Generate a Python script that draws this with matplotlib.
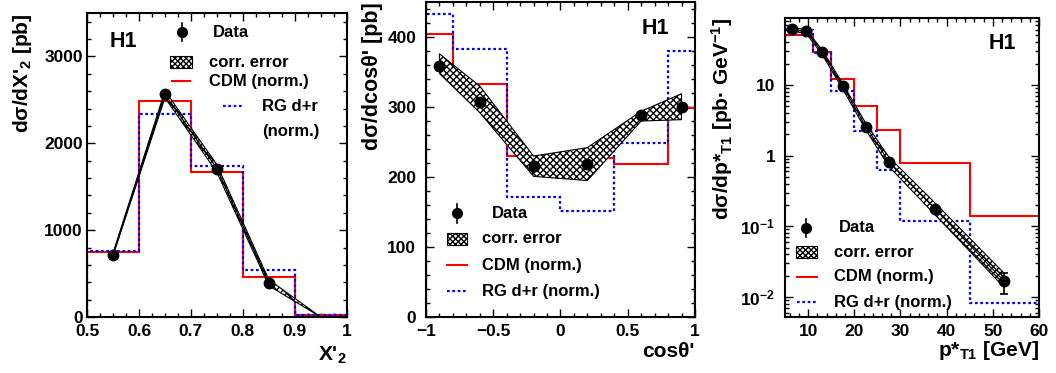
import matplotlib
matplotlib.use("Agg")
import matplotlib.pyplot as plt
from matplotlib.patches import Rectangle
from matplotlib.ticker import AutoMinorLocator, FixedLocator, LogLocator, NullFormatter, FuncFormatter

plt.rcParams['font.family'] = ['Liberation Sans', 'DejaVu Sans']
plt.rcParams['font.weight'] = 'bold'
plt.rcParams['mathtext.default'] = 'regular'
plt.rcParams['hatch.linewidth'] = 1.0
plt.rcParams['axes.linewidth'] = 1.5

# --- panel 1: X'_2 ---
x2_pts = [0.55, 0.65, 0.75, 0.85]
x2_data = [720, 2565, 1710, 395]
x2_err = [10, 15, 15, 10]
x2_band_x = [0.55, 0.65, 0.75, 0.85, 0.95]
x2_band_lo = [705, 2525, 1665, 360, 0]
x2_band_hi = [735, 2605, 1755, 430, 0]
x2_edges = [0.5, 0.6, 0.7, 0.8, 0.9, 1.0]
x2_cdm = [750, 2490, 1670, 460, 20]
x2_rg = [760, 2340, 1740, 540, 25]

# --- panel 2: cos theta' ---
ct_pts = [-0.9, -0.6, -0.2, 0.2, 0.6, 0.9]
ct_data = [358, 307, 216, 219, 288, 300]
ct_err = [3, 3, 2, 2, 3, 3]
ct_band_lo = [348, 292, 201, 195, 280, 282]
ct_band_hi = [376, 330, 230, 242, 294, 319]
ct_edges = [-1, -0.8, -0.4, 0, 0.4, 0.8, 1]
ct_cdm = [405, 333, 230, 227, 219, 299]
ct_rg = [433, 383, 171, 151, 249, 380]

# --- panel 3: p*_T1 ---
pt_pts = [6.5, 9.5, 13, 17.5, 22.5, 27.5, 37.5, 52.5]
pt_data = [60.7, 57.5, 29.3, 9.57, 2.57, 0.82, 0.176, 0.0166]
pt_err = [0.8, 0.8, 0.5, 0.2, 0.06, 0.02, 0.006, 0.0055]
pt_band_lo = [57, 54, 27, 8.7, 2.3, 0.70, 0.145, 0.0135]
pt_band_hi = [64, 61, 31.5, 10.4, 2.85, 0.95, 0.213, 0.0215]
pt_edges = [5, 8, 11, 15, 20, 25, 30, 45, 60]
pt_cdm = [51.5, 51.5, 29, 12.2, 4.94, 2.32, 0.78, 0.14]
pt_rg = [62, 60, 28, 8.15, 2.19, 0.62, 0.117, 0.0082]

fig = plt.figure(figsize=(10.56, 3.73), dpi=100)
ax1 = fig.add_axes([0.0824, 0.150, 0.246, 0.815])
ax2 = fig.add_axes([0.4034, 0.150, 0.2547, 0.8445])
ax3 = fig.add_axes([0.7434, 0.150, 0.2405, 0.8016])

HATCH = 'xxxxx'
LABEL_FS = 15
TICK_FS = 12.5
LEG_FS = 12


def draw_panel(ax, pts, data, err, bx, lo, hi, edges, cdm, rg, baseline=0):
    ax.fill_between(bx, lo, hi, facecolor='white', edgecolor='black',
                    hatch=HATCH, lw=0.8, zorder=3)
    ax.stairs(cdm, edges, color='red', lw=1.5, baseline=baseline, zorder=2)
    ax.stairs(rg, edges, color='blue', ls=(0, (1.2, 1.2)), lw=1.6,
              baseline=baseline, zorder=2)
    ax.errorbar(pts, data, yerr=err, fmt='o', color='black', ms=7.5,
                elinewidth=1.2, capsize=3, capthick=1.2, zorder=5)


def leg_entry(ax, kind, x0, x1, y, label, tx):
    xc = 0.5 * (x0 + x1)
    kw = dict(transform=ax.transAxes, clip_on=False)
    if kind == 'data':
        ax.plot([xc], [y], 'o', color='black', ms=7, **kw)
        ax.plot([xc, xc], [y - 0.03, y + 0.03], color='black', lw=1.2, **kw)
    elif kind == 'band':
        ax.add_patch(Rectangle((x0, y - 0.02), x1 - x0, 0.04, facecolor='white',
                               edgecolor='black', hatch='xxxxxx', lw=0.8, **kw))
    elif kind == 'cdm':
        ax.plot([x0, x1], [y, y], color='red', lw=1.5, **kw)
    elif kind == 'rg':
        ax.plot([x0, x1], [y, y], color='blue', ls=(0, (1.2, 1.2)), lw=1.6, **kw)
    if label:
        ax.text(tx, y, label, transform=ax.transAxes, va='center', ha='left',
                fontsize=LEG_FS, fontweight='bold')


def style(ax):
    ax.tick_params(which='both', direction='in', top=True, right=True,
                   labelsize=TICK_FS, width=1)
    ax.tick_params(which='major', length=6)
    ax.tick_params(which='minor', length=3)


# panel 1
draw_panel(ax1, x2_pts, x2_data, x2_err, x2_band_x, x2_band_lo, x2_band_hi,
           x2_edges, x2_cdm, x2_rg)
ax1.plot(x2_pts, x2_data, color='black', lw=1.0, zorder=4)
ax1.set_xlim(0.5, 1.0)
ax1.set_ylim(0, 3500)
ax1.set_xticks([0.5, 0.6, 0.7, 0.8, 0.9, 1.0])
ax1.set_xticklabels(['0.5', '0.6', '0.7', '0.8', '0.9', '1'])
ax1.set_yticks([0, 1000, 2000, 3000])
ax1.xaxis.set_minor_locator(AutoMinorLocator(4))
ax1.yaxis.set_minor_locator(AutoMinorLocator(5))
style(ax1)
ax1.tick_params(axis='x', pad=5)
ax1.tick_params(axis='y', pad=3)
ax1.set_ylabel("dσ/dX'$_{2}$ [pb]", fontsize=LABEL_FS, fontweight='bold', loc='top')
ax1.yaxis.set_label_coords(-0.205, 1.0)
ax1.set_xlabel("X'$_{2}$", fontsize=LABEL_FS, fontweight='bold', loc='right')
ax1.xaxis.set_label_coords(1.0, -0.09)
ax1.text(0.088, 0.905, 'H1', transform=ax1.transAxes, fontsize=15.5,
         fontweight='bold', va='center', ha='left')
leg_entry(ax1, 'data', 0.33, 0.40, 0.9375, 'Data', 0.485)
leg_entry(ax1, 'band', 0.319, 0.404, 0.838, 'corr. error', 0.469)
leg_entry(ax1, 'cdm', 0.327, 0.396, 0.776, 'CDM (norm.)', 0.469)
leg_entry(ax1, 'rg', 0.523, 0.60, 0.694, 'RG d+r', 0.673)
ax1.text(0.673, 0.609, '(norm.)', transform=ax1.transAxes, va='center',
         ha='left', fontsize=LEG_FS, fontweight='bold')

# panel 2
draw_panel(ax2, ct_pts, ct_data, ct_err, ct_pts, ct_band_lo, ct_band_hi,
           ct_edges, ct_cdm, ct_rg)
ax2.set_xlim(-1, 1)
ax2.set_ylim(0, 450)
ax2.set_xticks([-1, -0.5, 0, 0.5, 1])
ax2.set_xticklabels(['\u22121', '\u22120.5', '0', '0.5', '1'])
ax2.set_yticks([0, 100, 200, 300, 400])
ax2.xaxis.set_minor_locator(AutoMinorLocator(5))
ax2.yaxis.set_minor_locator(AutoMinorLocator(5))
style(ax2)
ax2.tick_params(axis='x', pad=5)
ax2.tick_params(axis='y', pad=7)
ax2.set_ylabel("dσ/dcosθ' [pb]", fontsize=15.5, fontweight='bold', loc='top')
ax2.yaxis.set_label_coords(-0.16, 1.0)
ax2.set_xlabel("cosθ'", fontsize=LABEL_FS, fontweight='bold', loc='right')
ax2.xaxis.set_label_coords(1.0, -0.08)
ax2.text(0.803, 0.917, 'H1', transform=ax2.transAxes, fontsize=15.5,
         fontweight='bold', va='center', ha='left')
leg_entry(ax2, 'data', 0.078, 0.152, 0.330, 'Data', 0.245)
leg_entry(ax2, 'band', 0.078, 0.152, 0.248, 'corr. error', 0.208)
leg_entry(ax2, 'cdm', 0.078, 0.152, 0.165, 'CDM (norm.)', 0.208)
leg_entry(ax2, 'rg', 0.078, 0.152, 0.0825, 'RG d+r (norm.)', 0.208)

# panel 3
ax3.set_yscale('log')
draw_panel(ax3, pt_pts, pt_data, pt_err, pt_pts, pt_band_lo, pt_band_hi,
           pt_edges, pt_cdm, pt_rg, baseline=None)
ax3.plot(pt_pts, pt_data, color='black', lw=0.8, zorder=4)
ax3.set_xlim(5, 60)
ax3.set_ylim(0.0052, 88)
ax3.set_xticks([10, 20, 30, 40, 50, 60])
ax3.xaxis.set_minor_locator(AutoMinorLocator(5))
ax3.yaxis.set_major_locator(FixedLocator([0.01, 0.1, 1, 10]))
ax3.yaxis.set_minor_locator(LogLocator(base=10, subs=range(2, 10)))
ax3.yaxis.set_minor_formatter(NullFormatter())
log_labels = {0.01: '10$^{\u22122}$', 0.1: '10$^{\u22121}$', 1: '1', 10: '10'}
ax3.yaxis.set_major_formatter(FuncFormatter(
    lambda v, p: min(log_labels.items(), key=lambda kv: abs(kv[0] - v))[1]))
style(ax3)
ax3.tick_params(axis='x', pad=5)
ax3.tick_params(axis='y', pad=7)
ax3.set_ylabel("dσ/dp*$_{T1}$ [pb· GeV$^{\u22121}$]", fontsize=LABEL_FS,
               fontweight='bold', loc='top')
ax3.yaxis.set_label_coords(-0.197, 1.0)
ax3.set_xlabel("p*$_{T1}$ [GeV]", fontsize=LABEL_FS, fontweight='bold', loc='right')
ax3.xaxis.set_label_coords(1.0, -0.075)
ax3.text(0.803, 0.916, 'H1', transform=ax3.transAxes, fontsize=15.5,
         fontweight='bold', va='center', ha='left')
leg_entry(ax3, 'data', 0.043, 0.126, 0.298, 'Data', 0.213)
leg_entry(ax3, 'band', 0.043, 0.126, 0.217, 'corr. error', 0.193)
leg_entry(ax3, 'cdm', 0.047, 0.126, 0.134, 'CDM (norm.)', 0.193)
leg_entry(ax3, 'rg', 0.047, 0.126, 0.05, 'RG d+r (norm.)', 0.193)

fig.savefig('out.png', dpi=100)
